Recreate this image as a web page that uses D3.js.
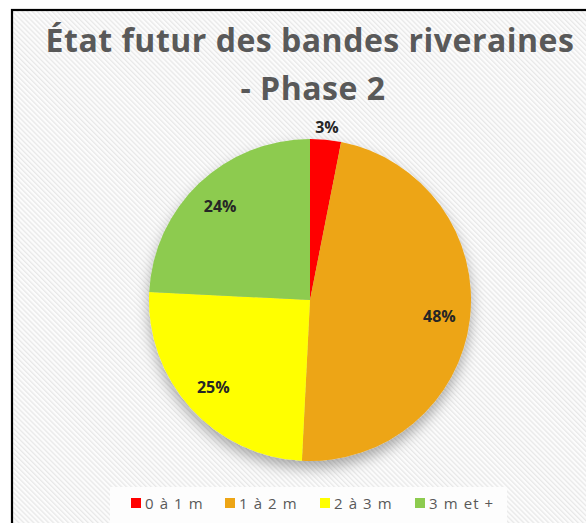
<!DOCTYPE html>
<html><head><meta charset="utf-8">
<script src="https://cdn.jsdelivr.net/npm/d3@7/dist/d3.min.js"></script>
<style>html,body{margin:0;padding:0;background:#fff;}svg{display:block;}</style>
</head><body>
<script>
const categories = ["0 à 1 m", "1 à 2 m", "2 à 3 m", "3 m et +"];
const values = [3.1, 47.7, 25.0, 24.2];
const colors = ["#ff0000", "#eda515", "#ffff00", "#8dcb4f"];
const title = ["État futur des bandes riveraines", "- Phase 2"];

const W = 586, H = 523;
const svg = d3.select("body").append("svg").attr("width", W).attr("height", H);
const defs = svg.append("defs");
const pat = defs.append("pattern").attr("id", "stripes").attr("patternUnits", "userSpaceOnUse")
  .attr("width", 3.5).attr("height", 4).attr("patternTransform", "rotate(-45)");
pat.append("rect").attr("width", 3.5).attr("height", 4).attr("fill", "#fcfcfc");
pat.append("rect").attr("x", 0).attr("width", 1.3).attr("height", 4).attr("fill", "#e8e8e8");

const f = defs.append("filter").attr("id", "shadow").attr("x", "-30%").attr("y", "-30%").attr("width", "160%").attr("height", "160%");
f.append("feDropShadow").attr("dx", 0).attr("dy", 7).attr("stdDeviation", 7)
  .attr("flood-color", "#000").attr("flood-opacity", 0.32);

svg.append("rect").attr("x", 12).attr("y", 10).attr("width", 700).attr("height", 700)
  .attr("fill", "url(#stripes)").attr("stroke", "#000").attr("stroke-width", 2.2);

// title
svg.append("g").selectAll("text").data(title).join("text")
  .attr("x", (d, i) => i === 0 ? 310 : 313).attr("y", (d, i) => 52 + i * 48)
  .attr("text-anchor", "middle")
  .attr("font-family", "'Open Sans', sans-serif").attr("font-weight", 700)
  .attr("font-size", 32).attr("letter-spacing", 0.5).attr("fill", "#595959")
  .text(d => d);

// pie
const cx = 310, cy = 300, r = 161;
const pie = d3.pie().sort(null).value(d => d)(values);
const arc = d3.arc().innerRadius(0).outerRadius(r);
const g = svg.append("g").attr("transform", `translate(${cx},${cy})`);
g.append("g").attr("filter", "url(#shadow)").selectAll("path").data(pie).join("path")
  .attr("d", arc).attr("fill", (d, i) => colors[i]);

const total = d3.sum(values);
const labelArc = d3.arc().innerRadius(r * 0.81).outerRadius(r * 0.81);
const outArc = d3.arc().innerRadius(r * 1.08).outerRadius(r * 1.08);
g.selectAll("text.lbl").data(pie).join("text").attr("class", "lbl")
  .attr("x", (d, i) => (i === 0 ? outArc : labelArc).centroid(d)[0])
  .attr("y", (d, i) => (i === 0 ? outArc : labelArc).centroid(d)[1])
  .attr("text-anchor", "middle").attr("dominant-baseline", "central")
  .attr("font-family", "'Open Sans', sans-serif").attr("font-weight", 700)
  .attr("font-size", 16).attr("fill", "#262626")
  .text(d => Math.round(d.value / total * 100) + "%");

// legend
svg.append("rect").attr("x", 110).attr("y", 487).attr("width", 397).attr("height", 40)
  .attr("fill", "#fdfdfd");
const legX = [131, 225, 320, 415];
const lg = svg.append("g").selectAll("g").data(categories).join("g")
  .attr("transform", (d, i) => `translate(${legX[i]},503)`);
lg.append("rect").attr("x", 0).attr("y", -5).attr("width", 10).attr("height", 10)
  .attr("fill", (d, i) => colors[i]);
lg.append("text").attr("x", 14).attr("y", 0).attr("dominant-baseline", "central")
  .attr("font-family", "'Open Sans', sans-serif").attr("font-size", 15)
  .attr("letter-spacing", 1.1).attr("fill", "#595959").text(d => d);
</script>
</body></html>
